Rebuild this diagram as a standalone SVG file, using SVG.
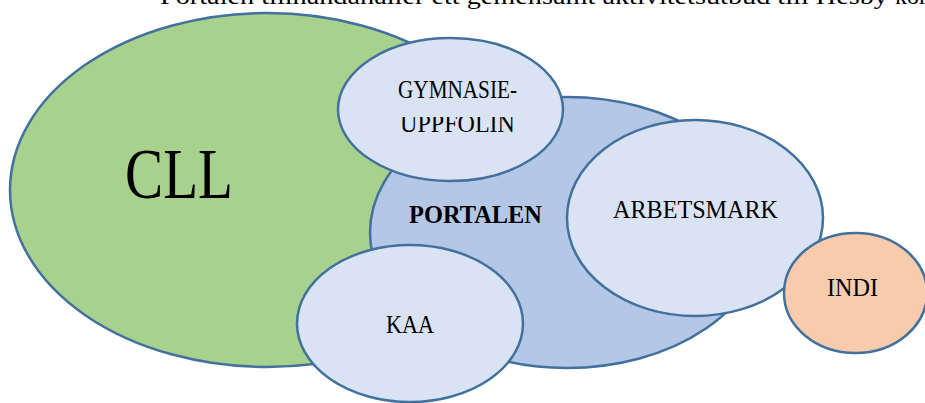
<svg xmlns="http://www.w3.org/2000/svg" width="925" height="403" viewBox="0 0 925 403">
<style>
  .sh { stroke: #41719C; stroke-width: 2.5; }
  .green { fill: #A9D18E; }
  .mid { fill: #B4C7E7; }
  .light { fill: #DAE3F3; }
  .peach { fill: #F8CBAD; }
  text { font-family: "Liberation Serif", "DejaVu Serif", serif; fill: #000; text-anchor: middle; }
  .lbl { font-size: 25.5px; }
</style>
<defs>
  <clipPath id="gclip2"><rect x="330" y="117" width="240" height="30"/></clipPath>
</defs>
<rect width="925" height="403" fill="#FFFFFF"/>
<text x="160" y="4" style="font-size:24px;text-anchor:start" textLength="728" lengthAdjust="spacingAndGlyphs">Portalen tillhandahåller ett gemensamt aktivitetsutbud till Hesby</text>
<text x="895" y="4" style="font-size:24px;text-anchor:start">kommun</text>
<g id="connectors"></g>
<g id="cll">
  <ellipse class="sh green" cx="267" cy="190" rx="257" ry="177"/>
  <text x="179" y="198" style="font-size:71px" textLength="108" lengthAdjust="spacingAndGlyphs">CLL</text>
</g>
<g id="portalen">
  <ellipse class="sh mid" cx="567" cy="232.5" rx="197" ry="135.5"/>
  <text class="lbl" x="475.5" y="223" font-weight="bold" textLength="133" lengthAdjust="spacingAndGlyphs">PORTALEN</text>
</g>
<g id="gymnasie">
  <ellipse class="sh light" cx="450.5" cy="109.5" rx="112.5" ry="71.5"/>
  <text class="lbl" x="457.5" y="98" textLength="119" lengthAdjust="spacingAndGlyphs">GYMNASIE-</text>
  <text class="lbl" x="457.5" y="131.5" textLength="115" lengthAdjust="spacingAndGlyphs" clip-path="url(#gclip2)">UPPFÖLIN</text>
</g>
<g id="kaa">
  <ellipse class="sh light" cx="410" cy="323.5" rx="113" ry="78.5"/>
  <text class="lbl" x="410" y="333" textLength="48" lengthAdjust="spacingAndGlyphs">KAA</text>
</g>
<g id="arbetsmark">
  <ellipse class="sh light" cx="695" cy="218" rx="128" ry="98"/>
  <text class="lbl" x="695.5" y="218" textLength="165" lengthAdjust="spacingAndGlyphs">ARBETSMARK</text>
</g>
<g id="indi">
  <ellipse class="sh peach" cx="855.5" cy="293" rx="71.5" ry="60"/>
  <text class="lbl" x="852.5" y="296" textLength="51" lengthAdjust="spacingAndGlyphs">INDI</text>
</g>
</svg>
